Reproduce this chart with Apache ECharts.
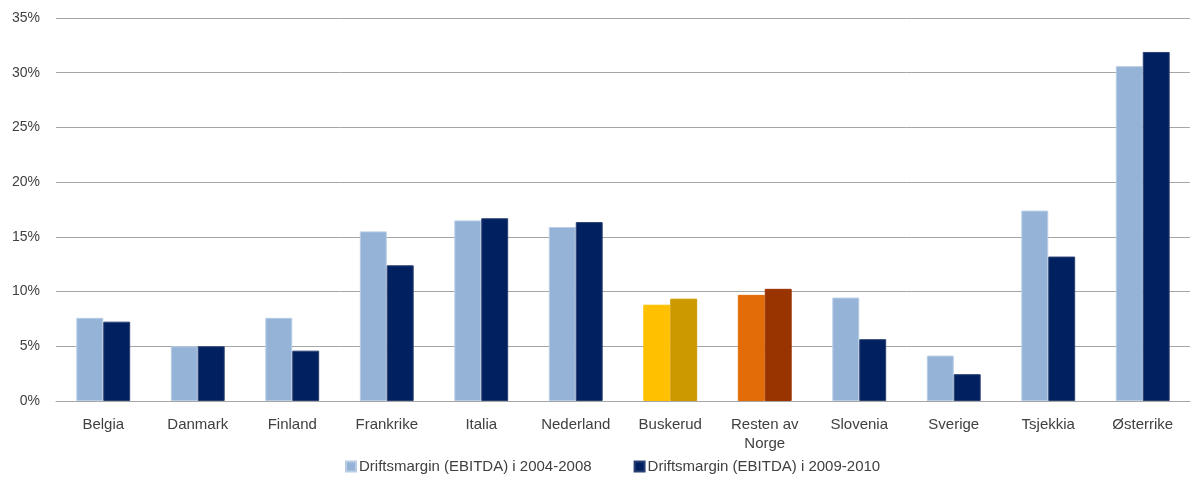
<!DOCTYPE html>
<html><head><meta charset="utf-8">
<script src="https://cdn.jsdelivr.net/npm/echarts@6/dist/echarts.min.js"></script>
<style>html,body{margin:0;padding:0;background:#fff}#c{width:1192px;height:486px}</style>
</head><body><div id="c"></div>
<script>
const categories = ['Belgia','Danmark','Finland','Frankrike','Italia','Nederland','Buskerud','Resten av\nNorge','Slovenia','Sverige','Tsjekkia','Østerrike'];
const seriesNames = ['Driftsmargin (EBITDA) i 2004-2008','Driftsmargin (EBITDA) i 2009-2010'];
const margin0408 = [7.6, 5.0, 7.6, 15.5, 16.5, 15.9, 8.8, 9.7, 9.45, 4.15, 17.4, 30.6];
const margin0910 = [7.25, 5.0, 4.6, 12.4, 16.7, 16.35, 9.35, 10.25, 5.65, 2.45, 13.2, 31.9];
const yTicks = [0,5,10,15,20,25,30,35];

const baseColors = ['#95B3D7', '#002060'];
const special = { 'Buskerud': ['#FFC000', '#CC9900'], 'Resten av\nNorge': ['#E36C09', '#993300'] };
const font = 'Liberation Sans, Arial, sans-serif';

function build(vals, si) {
  return vals.map((v, i) => {
    const s = special[categories[i]];
    const item = { value: v };
    if (s) item.itemStyle = { color: s[si], borderColor: s[si] };
    return item;
  });
}

const chart = echarts.init(document.getElementById('c'), null, { renderer: 'canvas' });
chart.setOption({
  animation: false,
  grid: { left: 56, right: 2, top: 18, bottom: 85, containLabel: false },
  legend: {
    bottom: 7, left: 340, itemWidth: 10, itemHeight: 10, itemGap: 42,
    icon: 'rect',
    textStyle: { fontFamily: font, fontSize: 15, color: '#404040', padding: [0,0,0,-2] },
    data: seriesNames
  },
  xAxis: {
    type: 'category', data: categories,
    axisLine: { lineStyle: { color: '#a6a6a6', width: 1 } },
    axisTick: { show: false },
    axisLabel: { fontFamily: font, fontSize: 15, color: '#404040', margin: 14, lineHeight: 19, interval: 0 }
  },
  yAxis: {
    type: 'value', min: 0, max: 35, interval: 5,
    axisLine: { show: false }, axisTick: { show: false },
    splitLine: { lineStyle: { color: '#a6a6a6', width: 1 } },
    axisLabel: { fontFamily: font, fontSize: 14, color: '#404040', margin: 16, formatter: v => v + '%' }
  },
  series: [
    { name: seriesNames[0], type: 'bar', data: build(margin0408, 0), barGap: '0%', barCategoryGap: '43%',
      itemStyle: { color: baseColors[0], borderColor: '#b9cde5', borderWidth: 1 } },
    { name: seriesNames[1], type: 'bar', data: build(margin0910, 1),
      itemStyle: { color: baseColors[1], borderColor: '#2b4072', borderWidth: 1 } }
  ]
});
</script></body></html>
